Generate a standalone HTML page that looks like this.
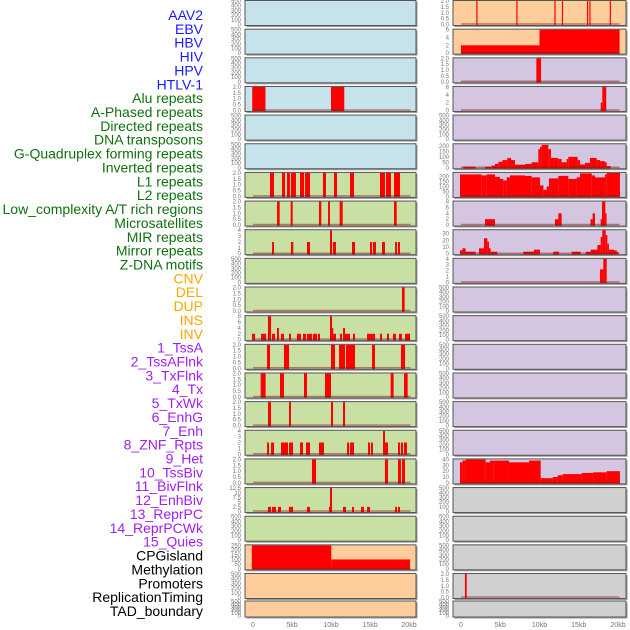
<!DOCTYPE html>
<html><head><meta charset="utf-8">
<style>
html,body{margin:0;padding:0;background:#fff;width:630px;height:630px;overflow:hidden}
svg{display:block}
.lab{font-family:"Liberation Sans",sans-serif;font-size:14px}
.tk{font-family:"Liberation Sans",sans-serif;font-size:6px;fill:#777}
.xt{font-family:"Liberation Sans",sans-serif;font-size:7px;fill:#777}
</style></head>
<body>
<svg id="chart" width="630" height="630"></svg>
<script>
// ---- labels ----
const trackLabels = ["AAV2","EBV","HBV","HIV","HPV","HTLV-1","Alu repeats","A-Phased repeats","Directed repeats","DNA transposons","G-Quadruplex forming repeats","Inverted repeats","L1 repeats","L2 repeats","Low_complexity A/T rich regions","Microsatellites","MIR repeats","Mirror repeats","Z-DNA motifs","CNV","DEL","DUP","INS","INV","1_TssA","2_TssAFlnk","3_TxFlnk","4_Tx","5_TxWk","6_EnhG","7_Enh","8_ZNF_Rpts","9_Het","10_TssBiv","11_BivFlnk","12_EnhBiv","13_ReprPC","14_ReprPCWk","15_Quies","CPGisland","Methylation","Promoters","ReplicationTiming","TAD_boundary"];
const labelGroups = ["v","v","v","v","v","v","r","r","r","r","r","r","r","r","r","r","r","r","r","c","c","c","c","c","s","s","s","s","s","s","s","s","s","s","s","s","s","s","s","o","o","o","o","o"];
// ---- x ticks ----
const xTickValues = [0,5,10,15,20];
const xTickLabels = ["0","5kb","10kb","15kb","20kb"];
// ---- data segments [startKb, endKb, value] ----
const segL3 = [[-0.1,1.6,2],[10,11.7,2]];
const segL6 = [[2.18,2.69,2],[3.72,4.1,2],[4.36,4.74,2],[4.87,5.51,2],[6.03,6.54,2],[6.67,7.31,2],[8.97,9.36,2],[10.38,10.77,2],[12.44,12.95,2],[16.28,16.92,2],[17.05,17.69,2],[18.08,18.85,2]];
const segL7 = [[3.08,3.42,2],[4.83,5.09,2],[8.46,8.76,2],[9.62,9.87,2],[11.11,11.5,2],[18.08,18.42,2]];
const segL8 = [[2.44,2.69,2],[4.87,5.17,2],[6.92,7.31,2],[9.87,10.13,4],[10.26,10.64,2],[12.69,13.08,2],[15.0,15.26,2],[15.38,15.77,2],[16.54,16.92,2],[18.21,18.46,2],[18.59,18.85,2]];
const segL10 = [[19.1,19.44,2]];
const segL11 = [[-0.13,0.26,2],[1.03,1.67,2],[1.92,2.31,8],[2.44,2.82,2],[3.08,3.33,4],[3.59,3.97,2],[4.62,4.87,2],[5.64,6.15,2],[6.41,6.79,2],[6.92,7.56,2],[7.69,8.21,2],[8.33,8.59,2],[9.87,10.13,8],[10.13,10.26,4],[10.26,10.64,2],[11.15,11.41,2],[11.54,11.8,4],[11.67,12.44,2],[12.82,13.08,2],[14.62,15.64,2],[16.28,16.54,2],[17.18,17.44,2],[17.95,18.33,2],[18.72,19.1,2],[19.49,20.13,2]];
const segL12 = [[1.8,2.18,2],[3.97,4.62,2],[10.0,10.51,2],[11.03,11.8,2],[11.92,13.08,2],[15.26,15.64,2],[18.97,19.49,2]];
const segL13 = [[0.98,1.62,2],[3.46,3.97,2],[6.54,6.92,2],[9.23,10.0,2],[17.65,18.03,2],[19.36,19.83,2]];
const segL14 = [[1.92,2.31,2],[4.62,4.87,2],[10.0,10.26,2],[11.54,11.8,2]];
const segL15 = [[1.8,2.05,2],[2.31,2.69,2],[3.59,4.49,2],[4.62,5.13,2],[6.03,6.41,2],[6.79,7.31,2],[8.46,9.1,2],[12.05,12.31,2],[12.44,12.95,2],[14.74,15.0,2],[15.13,15.38,2],[16.67,16.92,4],[16.92,17.31,2],[18.59,18.85,2],[18.97,19.23,2],[19.36,19.74,2]];
const segL16 = [[7.56,8.08,2],[16.92,17.31,2],[18.59,18.97,2],[19.1,19.49,2]];
const segL17 = [[1.92,2.31,2.5],[2.44,2.95,2.5],[3.21,3.59,2.5],[4.62,5.13,2.5],[6.92,7.31,2.5],[9.74,9.87,2.5],[9.87,10.13,12.5],[11.54,11.92,2.5],[12.69,12.95,2.5],[13.85,14.23,2.5],[14.62,15.0,2.5],[18.21,18.46,2.5],[18.59,18.85,2.5]];
const segL19 = [[-0.15,10.04,250],[10.04,20.13,100]];
const segR0 = [[1.95,2.1,2],[7.05,7.2,2],[11.9,12.05,2],[12.85,13.0,2],[16.05,16.2,2],[16.35,16.5,2],[18.95,19.1,2]];
const segR1 = [[0,10,2],[10,20.2,6]];
const segR2 = [[9.6,10.2,2]];
const segR3 = [[17.8,18.0,2],[18.0,18.5,6]];
const segR5 = [[0.29,1.87,10],[3.06,3.91,10],[3.91,4.33,20],[4.33,4.76,35],[4.76,5.27,55],[5.27,5.9,70],[5.9,6.37,90],[6.37,6.88,70],[6.88,8.15,28],[8.15,9.0,35],[9.0,9.85,50],[9.85,10.06,170],[10.06,10.27,190],[10.27,11.12,210],[11.12,11.46,170],[11.46,12.4,90],[12.4,12.82,80],[12.82,13.46,50],[13.46,13.67,80],[13.67,14.86,100],[14.86,15.16,70],[15.16,15.8,30],[15.8,16.43,45],[16.43,17.28,90],[17.28,17.71,70],[17.71,18.34,60],[18.34,18.56,50],[18.56,19.07,15]];
const segR6 = [[-0.13,2.63,220],[2.63,3.27,210],[3.27,4.33,220],[4.33,4.97,195],[4.97,5.39,175],[5.39,5.82,160],[5.82,6.24,190],[6.24,8.15,210],[8.15,9.0,205],[9.0,10.06,190],[10.06,10.49,110],[10.49,10.91,65],[10.91,11.21,100],[11.21,12.4,180],[12.4,13.67,205],[13.67,14.73,175],[14.73,15.16,190],[15.16,16.65,230],[16.65,17.07,210],[17.07,18.34,190],[18.34,18.56,220],[18.56,20.25,235]];
const segR7 = [[3.06,4.33,2],[11.97,12.4,2],[12.4,12.82,4],[16.5,16.77,2],[16.77,17.07,4],[17.79,17.96,2],[17.96,18.38,8],[18.38,18.55,4]];
const segR8 = [[-0.13,0.17,5],[0.17,0.59,8],[0.59,1.87,3],[2.29,2.93,8],[2.93,3.36,23],[3.36,3.57,18],[3.57,3.78,8],[3.78,4.63,3],[7.94,9.3,3],[9.3,10.06,6],[11.76,12.48,3],[14.1,15.24,3],[15.88,16.52,3],[16.52,17.37,6],[17.37,17.79,13],[17.79,18.0,25],[18.0,18.43,35],[18.43,18.64,28],[18.64,18.85,15],[18.85,19.49,6],[19.49,19.83,5],[19.83,20.04,3]];
const segR9 = [[17.71,18.13,2.2],[18.13,18.56,4]];
const segR16 = [[-0.13,0.17,35],[0.17,0.59,38],[0.59,3.14,40],[3.14,3.69,35],[3.69,4.12,38],[4.12,6.11,38],[6.11,8.66,35],[8.66,10.15,38],[10.15,11.68,8],[11.68,12.31,10],[12.31,12.95,13],[12.95,15.37,15],[15.37,16.86,17],[16.86,18.56,18],[18.56,20.25,20]];
const segR20 = [[0.5,0.73,2]];
// ---- tick sets ----
const ticksEmpty = [0,100,200,300,400,500];
const ticks2 = [0,0.5,1,1.5,2];
const ticks4 = [0,1,2,3,4];
const ticks6 = [0,2,4,6];
const ticks8 = [0,2,4,6,8];
const ticks12 = [0,2.5,5,7.5,10,12.5];
const ticks200 = [0,50,100,150,200];
const ticks250 = [0,50,100,150,200,250];
const ticks30 = [0,10,20,30];
const ticks40 = [0,10,20,30,40];

const BLUE="#c6e3eb", ORANGE="#fdcd9b", PURPLE="#d4c5e1", GREEN="#c8e0a4", GRAY="#d0d0d0";
function leftColor(r){return r<=5?BLUE:(r<=18?GREEN:ORANGE);}
function rightColor(r){return r<=1?ORANGE:(r<=16?PURPLE:GRAY);}
const leftData = {3:[segL3,2,ticks2],6:[segL6,2,ticks2],7:[segL7,2,ticks2],8:[segL8,4,ticks4],10:[segL10,2,ticks2],11:[segL11,8,ticks8],12:[segL12,2,ticks2],13:[segL13,2,ticks2],14:[segL14,2,ticks2],15:[segL15,4,ticks4],16:[segL16,2,ticks2],17:[segL17,12.5,ticks12],19:[segL19,250,ticks250]};
const rightData = {0:[segR0,2,ticks2],1:[segR1,6,ticks6],2:[segR2,2,ticks2],3:[segR3,6,ticks6],5:[segR5,215,ticks200],6:[segR6,235,ticks200],7:[segR7,8,ticks8],8:[segR8,35,ticks30],9:[segR9,4,ticks4],16:[segR16,40,ticks40],20:[segR20,2,ticks2]};

const NS="http://www.w3.org/2000/svg";
const svg=document.getElementById('chart');
function mk(tag,attrs,parent){const e=document.createElementNS(NS,tag);for(const k in attrs)e.setAttribute(k,attrs[k]);(parent||svg).appendChild(e);return e;}

// labels
const groupColor={v:"#1a1aff",r:"#107010",c:"#ffa500",s:"#a020f0",o:"#000"};
trackLabels.forEach((t,i)=>{
  const e=mk('text',{x:203,y:20+i*13.86,'text-anchor':'end','class':'lab',fill:groupColor[labelGroups[i]]});
  e.textContent=t;
  
  
});

const cols=[{x0:245,w:171,zero:253,k:7.8,color:leftColor,data:leftData,side:'left'},{x0:453,w:173,zero:461,k:7.85,color:rightColor,data:rightData,side:'right'}];
function rowTop(r){return r<21?0.5+r*28.65:601;}
function rowH(r){return r<21?25:16;}

cols.forEach(c=>{
  const xs=kb=>c.zero+kb*c.k;
  for(let r=0;r<22;r++){
    const top=rowTop(r),h=rowH(r),bot=top+h;
    const g=mk('g',{});
    
    
    const sh=mk('rect',{x:c.x0+1.5,y:top+1.5,width:c.w,height:h,fill:'#9a9a9a'},g);
    const bg=mk('rect',{x:c.x0,y:top,width:c.w,height:h,fill:c.color(r)},g);
    
    
    const d=c.data[r];
    const segs=d?d[0]:null, ymax=d?d[1]:500, ticks=d?d[2]:ticksEmpty;
    const ys=v=>bot-1-v/ymax*(h-1.5);
    const clipId='clip-'+c.side+'-'+r;
    const cp=mk('clipPath',{id:clipId},g);
    mk('rect',{x:c.x0,y:top,width:c.w,height:h},cp);
    const dg=mk('g',{'clip-path':'url(#'+clipId+')'},g);
    if(segs){
      segs.forEach(s=>{
        const x1=xs(s[0]),x2=xs(s[1]);
        const b=mk('rect',{x:x1,y:ys(s[2]),width:Math.max(1.2,x2-x1),height:ys(0)-ys(s[2])+1,fill:'#ff0000'},dg);
        
        
      });
      mk('line',{x1:xs(0),x2:xs(20.2),y1:bot-1.5,y2:bot-1.5,stroke:'rgba(150,20,20,0.5)','stroke-width':1.5},dg);
    }
    mk('rect',{x:c.x0,y:top,width:c.w,height:h,fill:'none',stroke:'#555','stroke-width':1},g);
    ticks.forEach(v=>{
      const t=mk('text',{x:c.x0-4,y:ys(v)+2,'text-anchor':'end','class':'tk'},g);
      t.textContent=(ticks===ticks2)?v.toFixed(1):String(v);
      
      
    });
  }
  xTickValues.forEach((v,i)=>{
    const t=mk('text',{x:xs(v),y:627,'text-anchor':'middle','class':'xt'});
    t.textContent=xTickLabels[i];
    
    
  });
});
</script>
</body></html>
